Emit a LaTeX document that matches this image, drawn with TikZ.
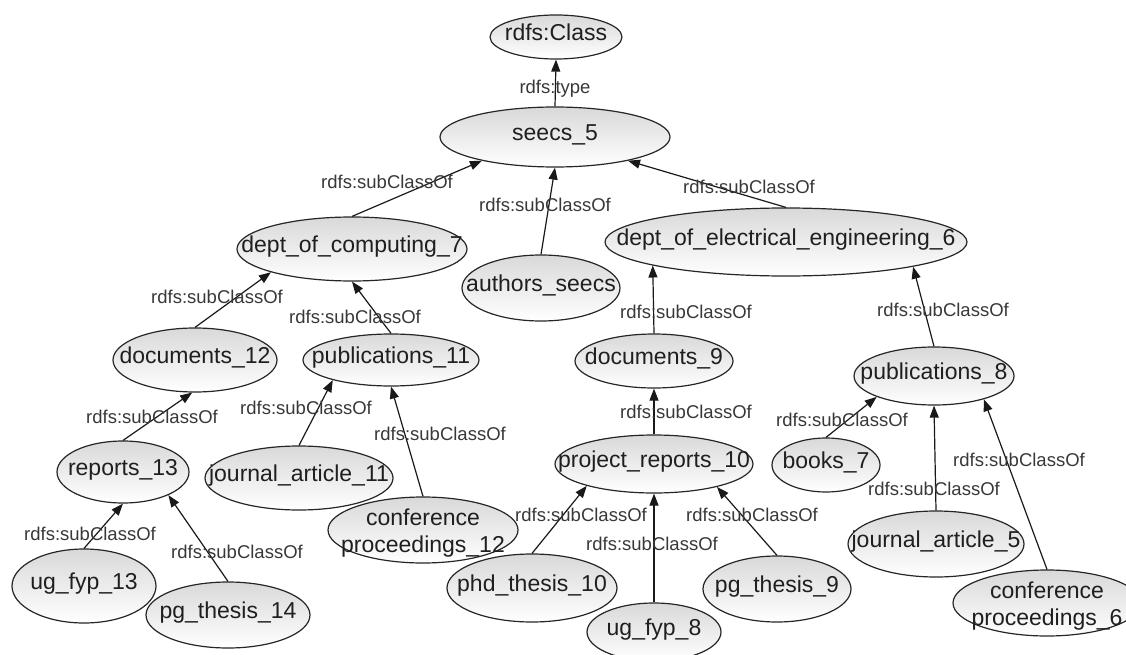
\documentclass[tikz,border=0pt]{standalone}
\usepackage{fontspec}
\setmainfont{Liberation Sans}
\usetikzlibrary{shapes.geometric,arrows.meta}

% class nodes: shaded ellipses of a fixed size, text centred and allowed to touch the rim
\tikzset{
  obj/.style={ellipse, draw=black!85, line width=1.2pt, top color=black!15, bottom color=white,
    inner sep=0pt, text height=0.72em, text depth=0pt,
    font=\fontsize{23}{27}\selectfont, text=black!88},
  sz/.style 2 args={minimum width=#1pt, minimum height=#2pt},
  rel/.style={font=\fontsize{18.5}{21}\selectfont, text=black!78, inner sep=0pt,
    text height=0.72em, text depth=0pt},
  sub/.style={draw=black!90, line width=1.2pt, -{Triangle[length=12pt,width=9pt]}},
}
\newcommand{\nt}[1]{\makebox[0pt]{#1}}
\newcommand{\ntwo}[2]{\makebox[0pt]{\raisebox{-6.5pt}{\begin{tabular}{@{}c@{}}#1\\#2\end{tabular}}}}

\begin{document}
\begin{tikzpicture}[x=1pt,y=-1pt]
\useasboundingbox (0,0) rectangle (1126,655);

% classes
\node[obj, sz={132}{44}]  (cls)  at (556,37)  {\nt{rdfs:Class}};
\node[obj, sz={230}{60}]  (s5)   at (555,137) {\nt{seecs\_5}};
\node[obj, sz={230}{64}]  (dc)   at (352,249) {\nt{dept\_of\_computing\_7}};
\node[obj, sz={158}{66}]  (au)   at (541,288) {\nt{authors\_seecs}};
\node[obj, sz={362}{68}]  (dee)  at (786,242) {\nt{dept\_of\_electrical\_engineering\_6}};
\node[obj, sz={164}{64}]  (d12)  at (195,360) {\nt{documents\_12}};
\node[obj, sz={176}{52}]  (p11)  at (391,360) {\nt{publications\_11}};
\node[obj, sz={158}{54}]  (d9)   at (654,361) {\nt{documents\_9}};
\node[obj, sz={160}{58}]  (p8)   at (934,376) {\nt{publications\_8}};
\node[obj, sz={132}{62}]  (r13)  at (123,472) {\nt{reports\_13}};
\node[obj, sz={188}{64}]  (j11)  at (299,478) {\nt{journal\_article\_11}};
\node[obj, sz={190}{66}]  (c12)  at (423,530) {\ntwo{conference}{proceedings\_12}};
\node[obj, sz={198}{58}]  (pr10) at (654,464) {\nt{project\_reports\_10}};
\node[obj, sz={108}{54}]  (b7)   at (826,465) {\nt{books\_7}};
\node[obj, sz={176}{66}]  (j5)   at (936,544) {\nt{journal\_article\_5}};
\node[obj, sz={188}{66}]  (c6)   at (1047,603) {\ntwo{conference}{proceedings\_6}};
\node[obj, sz={144}{74}]  (u13)  at (84,586)  {\nt{ug\_fyp\_13}};
\node[obj, sz={164}{66}]  (pg14) at (228,615) {\nt{pg\_thesis\_14}};
\node[obj, sz={170}{68}]  (phd)  at (532,588) {\nt{phd\_thesis\_10}};
\node[obj, sz={134}{58}]  (u8)   at (654,632) {\nt{ug\_fyp\_8}};
\node[obj, sz={148}{66}]  (pg9)  at (777,589) {\nt{pg\_thesis\_9}};

% relations
\draw[sub] (s5.north)   -- (cls.south);
\draw[sub] (dc.north)   -- (s5.198);
\draw[sub] (au.north)   -- (s5.south);
\draw[sub] (dee.north)  -- (s5.342);
\draw[sub] (d12.north)  -- (dc.196);
\draw[sub] (p11.north)  -- (dc.south);
\draw[sub] (r13.north)  -- (d12.265);
\draw[sub] (j11.north)  -- (p11.199);
\draw[sub] (c12.north)  -- (p11.south);
\draw[sub] (u13.north)  -- (r13.south);
\draw[sub] (pg14.north) -- (r13.333);
\draw[sub] (d9.north)   -- (dee.190);
\draw[sub] (p8.north)   -- (dee.349);
\draw[sub] (pr10.north) -- (d9.south);
\draw[sub] (b7.north)   -- (p8.200);
\draw[sub] (j5.north)   -- (p8.south);
\draw[sub] (c6.north)   -- (p8.335);
\draw[sub] (phd.north)  -- (pr10.198);
\draw[sub] (u8.north)   -- (pr10.south);
\draw[sub] (pg9.north)  -- (pr10.340);

% relation labels
\node[rel] (l1)  at (555,90)  {rdfs:type};
\node[rel] (l2)  at (387,185) {rdfs:subClassOf};
\node[rel] (l3)  at (545,208) {rdfs:subClassOf};
\node[rel] (l4)  at (749,190) {rdfs:subClassOf};
\node[rel] (l5)  at (217,300) {rdfs:subClassOf};
\node[rel] (l6)  at (355,320) {rdfs:subClassOf};
\node[rel] (l7)  at (152,420) {rdfs:subClassOf};
\node[rel] (l8)  at (306,411) {rdfs:subClassOf};
\node[rel] (l9)  at (440,437) {rdfs:subClassOf};
\node[rel] (l10) at (90,537)  {rdfs:subClassOf};
\node[rel] (l11) at (237,555) {rdfs:subClassOf};
\node[rel] (l12) at (686,315) {rdfs:subClassOf};
\node[rel] (l13) at (943,313) {rdfs:subClassOf};
\node[rel] (l14) at (686,415) {rdfs:subClassOf};
\node[rel] (l15) at (842,423) {rdfs:subClassOf};
\node[rel] (l16) at (934,492) {rdfs:subClassOf};
\node[rel] (l17) at (1019,463) {rdfs:subClassOf};
\node[rel] (l18) at (581,518) {rdfs:subClassOf};
\node[rel] (l19) at (652,547) {rdfs:subClassOf};
\node[rel] (l20) at (752,518) {rdfs:subClassOf};
\end{tikzpicture}
\end{document}
